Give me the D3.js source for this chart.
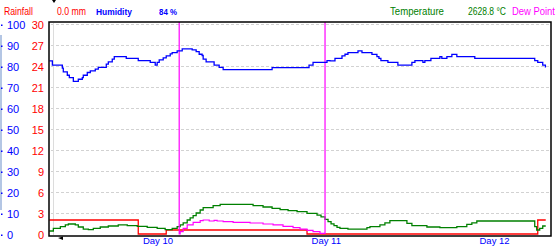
<!DOCTYPE html>
<html>
<head>
    <meta charset="utf-8">
    <style>
        body { margin: 0; background-color: #FFFFFF; }
        text { font-family: "Liberation Sans", Arial, sans-serif; }
    </style>
    <script src="https://d3js.org/d3.v7.min.js"></script>
</head>
<body>
<script>
    // hours counted from Day 9 00:00
    var humTimes = [8.5, 8.93, 10.35, 10.49, 11.06, 11.35, 11.92, 12.63, 13.2, 13.34, 13.91, 14.34, 15.05, 15.48,
        16.62, 16.91, 17.47, 17.76, 19.47, 21.18, 22.89, 23.6, 23.88, 24.17, 24.74, 25.17, 25.74, 26.02, 26.73,
        27.45, 28.87, 29.44, 29.87, 30.29, 30.44, 30.86, 32.0, 32.72, 33.29, 40.27, 45.54, 46.11, 48.1, 48.53,
        49.24, 50.24, 50.67, 51.09, 52.52, 53.09, 54.51, 55.22, 55.51, 55.79, 56.79, 58.21, 60.21, 60.64, 61.78,
        62.06, 62.92, 64.2, 64.48, 65.2, 65.91, 66.62, 69.18, 77.73, 78.16, 78.87, 79.25];
    var humValues = [82.4, 80.4, 79.0, 77.2, 75.6, 74.5, 72.7, 73.7, 74.5, 75.6, 76.9, 77.7, 78.5, 79.3,
        80.9, 82.0, 83.3, 84.5, 83.6, 82.6, 81.7, 80.4, 81.7, 82.9, 83.9, 84.8, 85.8, 86.4, 87.2,
        88.2, 87.7, 86.8, 85.6, 85.0, 83.3, 82.0, 80.4, 79.3, 78.3, 79.2, 80.4, 81.7, 82.6, 82.4,
        83.6, 84.8, 85.6, 86.4, 87.2, 86.4, 85.5, 84.5, 83.6, 82.6, 81.7, 80.4, 81.7, 82.6, 81.7,
        82.6, 83.6, 84.5, 83.6, 84.5, 85.5, 84.5, 83.6, 82.6, 81.7, 80.4, 79.3];

    var tempTimes = [8.5, 9.07, 10.07, 10.78, 11.21, 12.2, 12.63, 13.34, 14.06, 14.77, 15.76, 16.91, 18.33, 19.61,
        21.04, 22.46, 23.88, 25.02, 26.02, 26.73, 27.16, 27.59, 28.16, 28.58, 29.01, 29.44, 30.01, 30.44, 31.86,
        32.86, 37.56, 38.98, 40.27, 41.41, 42.55, 43.83, 45.25, 46.68, 47.25, 47.82, 48.25, 48.68, 49.1, 49.53,
        49.95, 51.09, 53.8, 54.23, 55.65, 56.36, 57.07, 59.5, 60.21, 62.35, 64.2, 66.62, 68.04, 68.76, 69.47,
        77.73, 78.01, 78.44, 78.87, 79.3];
    var tempValues = [0.43, 0.81, 1.05, 1.29, 1.43, 1.29, 1.0, 0.71, 0.62, 0.81, 1.0, 1.14, 1.29, 1.19,
        1.1, 0.95, 0.81, 0.62, 0.81, 1.05, 1.3, 1.6, 2.0, 2.3, 2.62, 3.0, 3.43, 3.76, 4.05,
        4.24, 4.05, 3.86, 3.67, 3.48, 3.33, 3.19, 2.95, 2.71, 2.45, 2.1, 1.76, 1.45, 1.19, 0.95,
        0.81, 0.71, 0.9, 1.05, 1.3, 1.6, 1.9, 1.52, 1.19, 1.0, 0.9, 1.05, 1.38, 1.6, 1.86,
        1.05, 0.57, 0.81, 1.14, 1.14];

    // null = no reading, drawn at the top of the plot
    var dewTimes = [27.02, 27.02, 27.16, 27.59, 28.16, 29.01, 30.01, 30.44, 31.3, 32.0, 32.43, 33.29, 34.71,
        37.13, 38.98, 40.41, 41.83, 43.26, 44.25, 45.25, 46.11, 47.1, 47.82];
    var dewValues = [null, 0, 0.33, 0.81, 1.29, 1.67, 1.9, 2.0, 1.86, 1.95, 1.86, 1.76, 1.67,
        1.57, 1.43, 1.29, 1.1, 0.9, 0.71, 0.52, 0.33, 0.1, null];

    var rainTimes = [8.5, 21.18, 25.17, 45.25, 78.16, 79.3];
    var rainValues = [2.0, 0, 0.57, 0, 2.0, 2.0];

    var dayTicks = [24, 48, 72];
    var dayLabels = ["Day 10", "Day 11", "Day 12"];
    var humTicks = [0, 10, 20, 30, 40, 50, 60, 70, 80, 90, 100];
    var tempTicks = [0, 3, 6, 9, 12, 15, 18, 21, 24, 27, 30];

    var w = 560, h = 251;
    var plotLeft = 49, plotRight = 551, plotTop = 22, plotBottom = 236;

    var svg = d3.select("body")
        .append("svg")
        .attr("width", w)
        .attr("height", h);

    var x = d3.scaleLinear().domain([8.45, 80.05]).range([plotLeft, plotRight]);
    var yT = d3.scaleLinear().domain([0, 30]).range([234, 24]);
    var yH = d3.scaleLinear().domain([0, 100]).range([234, 24]);

    // window strip at the far left
    svg.append("rect").attr("x", 0).attr("y", 35).attr("width", 2).attr("height", 175).attr("fill", "#B4C6E4");

    // grid
    svg.append("g")
        .selectAll("line")
        .data(tempTicks.slice(1))
        .enter()
        .append("line")
        .attr("x1", plotLeft + 2).attr("x2", plotRight - 1)
        .attr("y1", function (d) { return Math.round(yT(d)) + 0.5; })
        .attr("y2", function (d) { return Math.round(yT(d)) + 0.5; })
        .attr("stroke", "#D2D2D2")
        .attr("stroke-dasharray", "3,2");
    svg.append("line")
        .attr("x1", plotLeft + 4.5).attr("x2", plotLeft + 4.5)
        .attr("y1", plotTop + 1).attr("y2", plotBottom - 1)
        .attr("stroke", "#DCDCDC");

    // left axis labels
    svg.append("g")
        .selectAll("text")
        .data(humTicks)
        .enter()
        .append("text")
        .attr("x", 7)
        .attr("y", function (d) { return yH(d) + 1; })
        .attr("dominant-baseline", "central")
        .attr("font-size", "11px")
        .attr("fill", "#0000FF")
        .text(function (d) { return d; });
    svg.append("g")
        .selectAll("rect")
        .data(humTicks)
        .enter()
        .append("rect")
        .attr("x", 1).attr("width", 1.5).attr("height", 1.5)
        .attr("y", function (d) { return yH(d) + 0.5; })
        .attr("fill", "#0000FF");
    svg.append("g")
        .selectAll("text")
        .data(tempTicks)
        .enter()
        .append("text")
        .attr("x", 44)
        .attr("y", function (d) { return yT(d) + 1; })
        .attr("dominant-baseline", "central")
        .attr("text-anchor", "end")
        .attr("font-size", "11px")
        .attr("fill", "#FF0000")
        .text(function (d) { return d; });

    // day labels
    svg.append("g")
        .selectAll("text")
        .data(dayTicks)
        .enter()
        .append("text")
        .attr("x", function (d) { return x(d); })
        .attr("y", 244)
        .attr("text-anchor", "middle")
        .attr("font-size", "9.5px")
        .attr("fill", "#0000FF")
        .text(function (d, i) { return dayLabels[i]; });

    // series
    function series(times, values) {
        return times.map(function (t, i) { return { t: t, v: values[i] }; });
    }
    function stepLine(yScale) {
        return d3.line()
            .curve(d3.curveStepAfter)
            .x(function (d) { return x(d.t); })
            .y(function (d) { return d.v == null ? plotTop : yScale(d.v); });
    }

    svg.append("path")
        .datum(series(rainTimes, rainValues))
        .attr("d", stepLine(yT))
        .attr("fill", "none").attr("stroke", "#FF0000").attr("stroke-width", 1.3);
    svg.append("path")
        .datum(series(tempTimes, tempValues))
        .attr("d", stepLine(yT))
        .attr("fill", "none").attr("stroke", "#008000").attr("stroke-width", 1.3);
    svg.append("path")
        .datum(series(dewTimes, dewValues))
        .attr("d", stepLine(yT))
        .attr("fill", "none").attr("stroke", "#FF00FF").attr("stroke-width", 1.2);
    svg.append("path")
        .datum(series(humTimes, humValues))
        .attr("d", stepLine(yH))
        .attr("fill", "none").attr("stroke", "#0000FF").attr("stroke-width", 1.3);

    // frame
    svg.append("rect")
        .attr("x", plotLeft).attr("y", plotTop)
        .attr("width", plotRight - plotLeft).attr("height", plotBottom - plotTop)
        .attr("fill", "none")
        .attr("stroke", "#000000")
        .attr("stroke-width", 1.5);

    // little cursor marks
    svg.append("path").attr("d", "M58,238 L63,236.5 L63,240 Z").attr("fill", "#000000");
    svg.append("path").attr("d", "M52,0 L56,0 L54,3 Z").attr("fill", "#000000");

    // header, squeezed horizontally to the widths in the picture
    var header = [
        { x: 4, len: 29, text: "Rainfall", color: "#FF0000", size: "11px", weight: "normal" },
        { x: 57, len: 29, text: "0.0 mm", color: "#FF0000", size: "11px", weight: "normal" },
        { x: 96, len: 36, text: "Humidity", color: "#0000FF", size: "8.5px", weight: "bold" },
        { x: 159, len: 18, text: "84 %", color: "#0000FF", size: "8.5px", weight: "bold" },
        { x: 390, len: 54, text: "Temperature", color: "#008000", size: "11px", weight: "normal" },
        { x: 468, len: 38, text: "2628.8 °C", color: "#008000", size: "11px", weight: "normal" },
        { x: 512, len: 43, text: "Dew Point", color: "#FF00FF", size: "11px", weight: "normal" }
    ];
    svg.append("g")
        .selectAll("text")
        .data(header)
        .enter()
        .append("text")
        .attr("font-size", function (d) { return d.size; })
        .attr("font-weight", function (d) { return d.weight; })
        .attr("fill", function (d) { return d.color; })
        .text(function (d) { return d.text; })
        .attr("transform", function (d) {
            var k = d.len / this.getComputedTextLength();
            return "translate(" + d.x + ",15) scale(" + k + ",1)";
        });
</script>
</body>
</html>
